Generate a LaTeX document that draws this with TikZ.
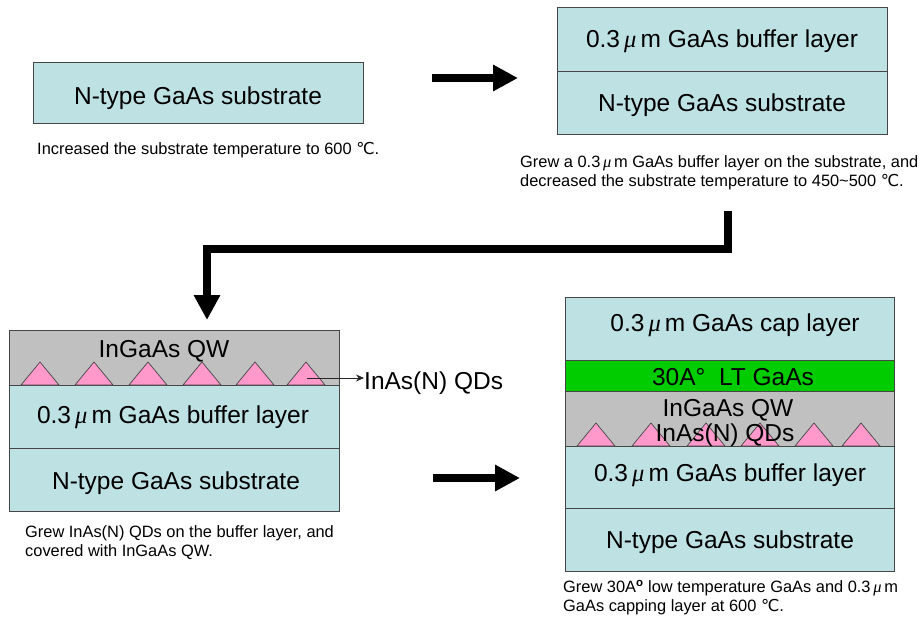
\documentclass[tikz,border=0pt]{standalone}
\usepackage{fontspec}
\setmainfont{Liberation Sans}
\newfontfamily\dejavu{DejaVu Sans}
\newfontfamily\grserif{Liberation Serif}
\usetikzlibrary{arrows.meta}
\definecolor{layercyan}{RGB}{190,225,228}
\definecolor{layergray}{RGB}{192,192,192}
\definecolor{dotpink}{RGB}{255,153,204}
\definecolor{ltgreen}{RGB}{0,204,0}
\definecolor{edgegray}{RGB}{70,70,70}
\newcommand{\um}{0.3\,{\grserif\itshape μ}\,m}
\newcommand{\degC}{{\dejavu ℃}}
\tikzset{
  cyanlayer/.style={fill=layercyan,draw=edgegray,line width=0.9pt},
  graylayer/.style={fill=layergray,draw=edgegray,line width=0.9pt},
  greenlayer/.style={fill=ltgreen,draw=edgegray,line width=0.9pt},
  qdot/.style={fill=dotpink,draw=edgegray,line width=0.7pt},
  bigtxt/.style={inner sep=0pt,font=\fontsize{24.5}{29}\selectfont},
  captxt/.style={inner sep=0pt,anchor=west,font=\fontsize{16.4}{19}\selectfont},
  fatarrow/.style={line width=8.5pt,-{Triangle[width=25pt,length=25pt]}},
  thinarrow/.style={line width=0.9pt,draw=black!85,-{Stealth[length=8pt,width=7pt]}}
}
\begin{document}
\begin{tikzpicture}[x=1pt,y=-1pt]
\useasboundingbox (0,0) rectangle (924,624);
\fill[white] (0,0) rectangle (924,624);
% ---------- Step 1 ----------
\draw[cyanlayer] (33,62) rectangle (363,123);
\node[bigtxt] (s1sub) at (198,98) {N-type GaAs substrate};
\node[captxt] (cap1) at (37,150) {Increased the substrate temperature to 600 \degC.};
% ---------- arrow 1 ----------
\coordinate (a1s) at (432,78);
\coordinate (a1e) at (518,78);
\draw[fatarrow] (a1s) -- (a1e);
% ---------- Step 2 ----------
\draw[cyanlayer] (557,7) rectangle (887,71);
\draw[cyanlayer] (557,71) rectangle (887,134);
\node[bigtxt] (s2buf) at (722,41) {\um{} GaAs buffer layer};
\node[bigtxt] (s2sub) at (722,105) {N-type GaAs substrate};
\node[captxt] (cap2a) at (520,163) {Grew a \um{} GaAs buffer layer on the substrate, and};
\node[captxt] (cap2b) at (520,182) {decreased the substrate temperature to 450\textasciitilde 500 \degC.};
% ---------- bent arrow ----------
\coordinate (b1) at (728,211);
\coordinate (b2) at (728,249);
\coordinate (b3) at (207,249);
\coordinate (b4) at (207,320);
\draw[fatarrow,line join=miter] (b1) -- (b2) -- (b3) -- (b4);
% ---------- Step 3 ----------
\draw[graylayer] (9,330) rectangle (339,385);
\draw[cyanlayer] (9,385) rectangle (339,448);
\draw[cyanlayer] (9,448) rectangle (339,511);
\foreach \cx in {40,94,148,202,255,306}
  \draw[qdot] (\cx-19,385) -- (\cx,362) -- (\cx+19,385) -- cycle;
\node[bigtxt] (s3qw) at (164,351) {InGaAs QW};
\node[bigtxt] (s3buf) at (173,417) {\um{} GaAs buffer layer};
\node[bigtxt] (s3sub) at (176,483) {N-type GaAs substrate};
\node[bigtxt,anchor=west] (s3qd) at (364,383) {InAs(N) QDs};
\coordinate (qdpt) at (307,378);
\draw[thinarrow] (qdpt) -- (qdpt -| s3qd.west);
\node[captxt] (cap3a) at (25,533) {Grew InAs(N) QDs on the buffer layer, and};
\node[captxt] (cap3b) at (25,552) {covered with InGaAs QW.};
% ---------- arrow 4 ----------
\coordinate (a4s) at (433,478);
\coordinate (a4e) at (520,478);
\draw[fatarrow] (a4s) -- (a4e);
% ---------- Step 4 ----------
\draw[cyanlayer] (565,297) rectangle (894,360);
\draw[greenlayer] (565,360) rectangle (894,391);
\draw[graylayer] (565,391) rectangle (894,446);
\draw[cyanlayer] (565,446) rectangle (894,508);
\draw[cyanlayer] (565,508) rectangle (894,571);
\foreach \cx in {596,651,706,760,814,861}
  \draw[qdot] (\cx-19,446) -- (\cx,423) -- (\cx+19,446) -- cycle;
\node[bigtxt] (s4cap) at (735,325) {\um{} GaAs cap layer};
\node[bigtxt] (s4lt) at (733,377) {30A°\ \ LT GaAs};
\node[bigtxt] (s4qw) at (728,410) {InGaAs QW};
\node[bigtxt] (s4qd) at (725,435) {InAs(N) QDs};
\node[bigtxt] (s4buf) at (730,475) {\um{} GaAs buffer layer};
\node[bigtxt] (s4sub) at (730,542) {N-type GaAs substrate};
\node[captxt] (cap4a) at (563,588) {Grew 30A\textsuperscript{\textbf{o}} low temperature GaAs and \um};
\node[captxt] (cap4b) at (563,607) {GaAs capping layer at 600 \degC.};
\end{tikzpicture}
\end{document}
